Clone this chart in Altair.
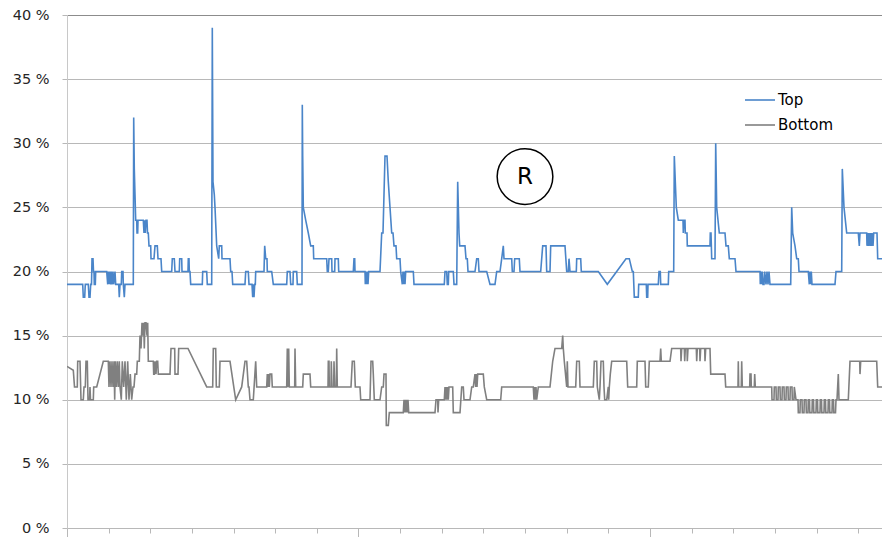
import altair as alt
import pandas as pd

# ---- data (t = sample position, v = percent) ----
SERIES = ["Top", "Bottom"]
COLORS = ["#4a85c9", "#808080"]

TOP_T = [
    0, 15.7, 16.3, 17.7, 18.3, 21.3, 22, 23, 23.7, 24.5,
    25, 26, 26.5, 27, 27.3, 28.3, 28.7, 39.7, 40.7, 41.3,
    42, 42.7, 43.7, 44.3, 45, 46, 46.7, 48, 48.7, 51.7,
    52.3, 53, 54.3, 54.7, 56, 56.3, 57.3, 58, 66.3, 66.7,
    67.3, 68, 68.7, 69.7, 70, 70.7, 71, 76.3, 77, 77.7,
    78.3, 79, 80, 80.5, 81.3, 82, 83.7, 84, 87, 88,
    90.3, 91, 94, 94.7, 104.7, 105.3, 107.3, 108, 112.3, 112.7,
    114.7, 115, 121, 121.3, 122, 122.3, 123, 123.7, 135.3, 135.7,
    139.7, 140.3, 144.7, 145.3, 146, 147.3, 148, 149.7, 151.7, 152.3,
    154.7, 155, 163, 163.7, 165, 165.7, 178, 178.7, 181.3, 182,
    185, 185.7, 186.3, 187, 187.7, 188.3, 188.7, 197, 197.7, 198.7,
    200, 200.3, 204.7, 206.3, 219.7, 220.3, 223, 223.7, 226, 226.3,
    229.7, 230.3, 235, 235.3, 235.7, 236.3, 238.7, 241.3, 243.7, 246.3,
    246.7, 259.7, 260.3, 261.3, 262, 264.7, 265, 267.7, 268, 271.3,
    271.7, 286.3, 287, 287.7, 288, 298, 298.3, 299, 299.7, 300.3,
    301, 301.7, 313, 314.7, 316, 318, 320, 321.3, 323, 324.7,
    326, 327, 329, 329.7, 333, 333.7, 335.3, 336, 336.7, 337.3,
    338, 338.7, 346.3, 347, 377.3, 378, 379.7, 380.3, 381.3, 381.7,
    386.3, 387, 389.7, 390.7, 392, 392.7, 398, 399, 400.3, 401,
    408, 409.7, 411.3, 412, 419.7, 423, 428, 429.7, 433, 434.7,
    436.3, 437, 444.7, 445.3, 447, 447.7, 452.3, 453, 473.7, 475.7,
    479, 479.7, 483, 483.7, 498, 499.7, 501.3, 502, 503, 509.3,
    509.7, 513.7, 514.3, 531.3, 540.3, 559, 562.3, 565.3, 566.3, 567.3,
    571.3, 571.7, 579.3, 579.7, 580.7, 581, 591.3, 592, 593.3, 593.7,
    601.3, 601.7, 606.7, 607.3, 608.3, 609.3, 611.3, 616, 616.3, 617,
    618, 618.3, 620, 620.3, 643, 643.3, 644, 644.7, 648, 648.7,
    649.7, 652.3, 658, 659, 661.3, 662.3, 668, 669, 693, 693.3,
    694, 694.7, 695.3, 696, 697, 697.7, 699, 700, 701, 702,
    703, 723.7, 724.7, 725.7, 728, 729.7, 731.3, 732, 741.3, 742.3,
    743, 743.7, 744.3, 745, 768, 769, 774.7, 775.3, 777, 779.7,
    791.3, 792.3, 793, 799.7, 800, 800.7, 801.3, 802, 803, 803.7,
    804.3, 805, 806, 806.7, 810, 810.7, 823,
]
TOP_V = [
    19, 19, 18, 18, 19, 19, 18, 18, 19, 19,
    21, 21, 20, 20, 19, 19, 20, 20, 19, 20,
    19, 20, 19, 20, 19, 20, 19, 20, 19, 19,
    18, 19, 19, 20, 20, 19, 18, 19, 19, 32,
    28, 26, 24, 24, 23, 23, 24, 24, 23, 24,
    23, 24, 24, 23, 23, 22, 22, 21, 21, 22,
    22, 21, 21, 20, 20, 21, 21, 20, 20, 21,
    21, 20, 20, 21, 21, 20, 20, 19, 19, 20,
    20, 19, 19, 39, 27, 26, 25, 22, 21, 22,
    22, 21, 21, 20, 20, 19, 19, 20, 20, 19,
    19, 18, 19, 18, 19, 19, 20, 20, 22, 21,
    21, 20, 20, 19, 19, 20, 20, 19, 19, 20,
    20, 19, 19, 33, 29, 25, 24, 23, 22, 22,
    21, 21, 20, 20, 21, 21, 20, 20, 21, 21,
    20, 20, 21, 21, 20, 20, 19, 20, 19, 20,
    19, 20, 20, 23, 23, 29, 29, 27, 25, 23,
    23, 22, 22, 21, 21, 20, 19, 20, 19, 20,
    19, 20, 20, 19, 19, 20, 20, 19, 19, 20,
    20, 19, 19, 27, 23, 22, 22, 21, 21, 20,
    20, 21, 21, 20, 20, 19, 19, 20, 20, 21,
    22, 21, 21, 20, 20, 21, 21, 20, 20, 22,
    22, 20, 20, 22, 22, 20, 20, 21, 20, 20,
    21, 21, 20, 20, 19, 21, 21, 20, 20, 18,
    18, 19, 19, 18, 18, 19, 19, 20, 20, 19,
    19, 20, 20, 29, 27, 25, 24, 24, 23, 24,
    24, 23, 23, 22, 22, 23, 23, 21, 21, 30,
    25, 23, 23, 22, 22, 21, 21, 20, 20, 19,
    20, 19, 20, 19, 19, 20, 19, 20, 19, 20,
    19, 19, 25, 23, 22, 21, 21, 20, 20, 19,
    20, 19, 20, 19, 19, 20, 20, 28, 25, 23,
    23, 22, 23, 23, 22, 23, 22, 23, 22, 23,
    22, 23, 22, 23, 23, 21, 21,
]

BOTTOM_T = [
    0, 6.3, 7.5, 10.3, 10.7, 13, 14, 16.3, 17, 18.3,
    19, 20.3, 21, 22.5, 23, 23.5, 26.3, 26.7, 29.7, 36.3,
    41.3, 42, 43, 44, 45, 46, 47, 47.7, 48.3, 49.3,
    50.3, 51.3, 52.3, 53, 54.3, 55.3, 56.7, 58, 59.3, 60.7,
    62, 63.3, 64.7, 66, 67, 68,
    69.7, 70.3, 72.3, 73, 74, 75, 76, 76.7, 77.3, 78, 79,
    80, 80.7, 81.3, 86.3, 86.7, 87.3, 88, 89, 89.7, 90.7,
    91.3, 103, 104, 107.7, 108, 111, 111.7, 121, 139.7, 145.7,
    146.3, 148.7, 149.3, 152.3, 153, 163, 168.7, 174.7, 178, 179.7,
    181.3, 182, 183, 186.3, 188.7, 189.7, 199.7, 200.3, 201, 201.7,
    202.3, 203, 204.7, 205.3, 219.7, 220.3, 221, 221.7, 222.3, 227.7,
    228, 228.7, 235.7, 236.3, 243, 243.7, 261, 261.3, 262, 262.3,
    264, 264.3, 265, 266.7, 267, 267.7, 269.3, 269.7, 270.3, 284,
    285.3, 287.3, 288.3, 293, 293.7, 303, 304, 305.7, 306.3, 307.3,
    313, 314.7, 316.3, 317, 319, 319.3, 321.3, 322.3, 336.3, 337,
    337.7, 338.3, 339, 339.7, 340.3, 341, 341.7, 344.7, 368, 369,
    370.7, 371, 371.7, 377.3, 378, 378.7, 379.3, 380, 380.7, 381.3,
    382, 385.7, 386.3, 393, 394.7, 396.3, 397, 403, 404.7, 406.3,
    408, 408.7, 409.3, 410, 410.7, 416.3, 417.3, 419.7, 433.7, 434.7,
    466.3, 467, 467.7, 468.3, 469, 469.7, 471.3, 483, 485.7, 488,
    494.7, 495.7, 496.3, 497.3, 499.7, 500.3, 501, 508.7, 509.7, 512.3,
    513, 526.3, 527.3, 529.7, 530.3, 532.3, 533, 534, 536.3, 537,
    537.7, 539.7, 541.3, 541.7, 542.3, 543.3, 544.7, 559.7, 560.7, 569.7,
    570.3, 578, 578.7, 581.3, 582.3, 593, 593.7, 594.3, 603, 604.7,
    613.7, 614, 614.7, 617.3, 617.7, 618.3, 620, 620.3, 621, 629.3,
    629.7, 630.3, 632.7, 633, 633.7, 637.7, 638, 638.7, 643, 643.7,
    658, 658.7, 671, 671.3, 671.7, 674.3, 674.7, 675.3, 682.7, 683,
    684, 684.3, 687.3, 687.7, 688.3, 699.7, 704.7,
    705, 707, 707.3, 709, 709.3, 711, 711.3, 713, 713.3, 715, 715.3, 717,
    717.3, 719, 719.3, 721, 721.3, 723, 723.3, 725, 725.3, 727, 727.3, 729,
    731, 731.3, 733, 733.3, 735, 735.3, 737, 737.3, 739, 739.3,
    741, 741.3, 742.5, 742.8, 745, 745.3, 746.5, 746.8, 749, 749.3,
    750.5, 750.8, 753, 753.3, 754.5, 754.8, 757, 757.3, 758.5, 758.8,
    761, 761.3, 762.5, 762.8, 765, 765.3, 766.5, 766.8, 768.5, 769,
    770, 771.3, 772, 781.3, 783, 792.7, 793, 793.7, 809.7, 810.7,
    819.7, 820.3, 823,
]
BOTTOM_V = [
    12.6, 12.3, 11, 11, 13, 13, 10, 10, 11, 11,
    13, 13, 10, 10, 11, 10, 10, 11, 11, 13,
    13, 11, 13, 11, 13, 11, 13, 10, 13, 11,
    13, 11, 13, 11, 10, 13, 11, 13, 10, 13,
    10, 12, 10, 11, 11, 12,
    12, 13, 13, 15, 14, 16, 15, 16, 14, 16, 16,
    15, 16, 13, 13, 12, 12, 13, 12, 13, 13,
    12, 12, 14, 14, 12, 12, 14, 14, 11, 11,
    14, 14, 11, 11, 13, 13, 10, 11, 13, 13,
    11, 11, 10, 10, 13, 11, 11, 12, 11, 12,
    11, 12, 12, 11, 11, 14, 11, 14, 11, 11,
    14, 11, 11, 12, 12, 11, 11, 13, 13, 11,
    11, 13, 11, 11, 13, 11, 11, 14, 11, 11,
    13, 13, 11, 11, 10, 10, 13, 13, 12, 10,
    10, 11, 11, 12, 12, 8, 8, 9, 9, 10,
    9, 10, 9, 10, 9, 10, 9, 9, 9, 10,
    10, 9, 10, 10, 11, 10, 11, 10, 11, 10,
    11, 11, 9, 9, 11, 11, 10, 10, 11, 11,
    12, 11, 12, 11, 12, 12, 11, 10, 10, 11,
    11, 10, 11, 10, 11, 10, 11, 11, 13, 14,
    14, 15, 14, 13, 11, 13, 11, 11, 13, 13,
    11, 11, 13, 13, 11, 10, 11, 13, 13, 11,
    10, 10, 11, 10, 11, 12, 13, 13, 11, 11,
    13, 13, 11, 11, 13, 13, 14, 13, 13, 14,
    14, 13, 14, 14, 13, 14, 14, 13, 14, 14,
    13, 14, 14, 13, 14, 14, 13, 14, 14, 12,
    12, 11, 11, 13, 11, 11, 13, 11, 11, 12,
    12, 11, 11, 12, 11, 11, 11,
    10, 10, 11, 11, 10, 10, 11, 11, 10, 10, 11, 11,
    10, 10, 11, 11, 10, 10, 11, 11, 10, 10, 11, 10,
    10, 9, 9, 10, 10, 9, 9, 10, 10, 9,
    9, 10, 10, 9, 9, 10, 10, 9, 9, 10,
    10, 9, 9, 10, 10, 9, 9, 10, 10, 9,
    9, 10, 10, 9, 9, 10, 10, 9, 9, 10,
    10, 12, 10, 10, 13, 13, 12, 13, 13, 11,
    11, 10, 10,
]

Y_TICKS = [0, 5, 10, 15, 20, 25, 30, 35, 40]
X_VISIBLE = 815
X_TICK_STEP = 41.64
X_TICKS = [round(i * X_TICK_STEP, 2) for i in range(20)]

NOTE_T = [458]
NOTE_V = [27.4]
NOTE_TEXT = ["R"]

# ---- tables ----
top_df = pd.DataFrame({"t": TOP_T, "v": TOP_V, "series": "Top"})
bot_df = pd.DataFrame({"t": BOTTOM_T, "v": BOTTOM_V, "series": "Bottom"})
lines_df = pd.concat([top_df, bot_df], ignore_index=True)
note_df = pd.DataFrame({"t": NOTE_T, "v": NOTE_V, "label": NOTE_TEXT})

FONT = "DejaVu Sans"
GRID = "#b8b8b8"

x_enc = alt.X(
    "t:Q",
    scale=alt.Scale(domain=[0, X_VISIBLE], nice=False, zero=False),
    axis=alt.Axis(
        values=X_TICKS, labels=False, title=None, grid=False,
        domainColor=GRID, tickColor=GRID,
        tickSize={"condition": {"test": "round(datum.value / 41.64) % 7 === 0", "value": 9}, "value": 5},
    ),
)
y_enc = alt.Y(
    "v:Q",
    scale=alt.Scale(domain=[0, 40], nice=False),
    axis=alt.Axis(
        values=Y_TICKS, title=None, labelExpr="datum.value + ' %'",
        labelFont=FONT, labelFontSize=14.5, labelColor="#262626",
        labelPadding=13, tickSize=5, tickColor=GRID, domainColor="#c8c8c8",
        gridColor={"condition": {"test": "datum.value === 40", "value": "#8c8c8c"}, "value": GRID},
    ),
)

lines = alt.Chart(lines_df).mark_line(strokeWidth=1.6, clip=True).encode(
    x=x_enc,
    y=y_enc,
    color=alt.Color(
        "series:N",
        scale=alt.Scale(domain=SERIES, range=COLORS),
        legend=alt.Legend(
            orient="none", legendX=677, legendY=77, title=None,
            symbolType="stroke", symbolSize=900, symbolStrokeWidth=1.6,
            labelFont=FONT, labelFontSize=15, labelColor="#000000",
            labelOffset=2, clipHeight=16, rowPadding=9, padding=0,
        ),
    ),
    detail="series:N",
)

circle = alt.Chart(note_df).mark_point(
    shape="circle", size=3100, filled=False, stroke="#000000", strokeWidth=1.5, opacity=1
).encode(x=x_enc, y=y_enc)

letter = alt.Chart(note_df).mark_text(
    font=FONT, fontSize=23, color="#000000", align="center", baseline="middle"
).encode(x=x_enc, y=y_enc, text="label:N")

chart = alt.layer(lines, circle, letter).properties(
    width=815, height=513,
    autosize=alt.AutoSizeParams(type="none"),
    padding={"left": 59, "top": 7, "right": 0, "bottom": 9},
).configure_view(strokeWidth=0)

chart.save("out.html", embed_options={"renderer": "svg", "actions": False})
